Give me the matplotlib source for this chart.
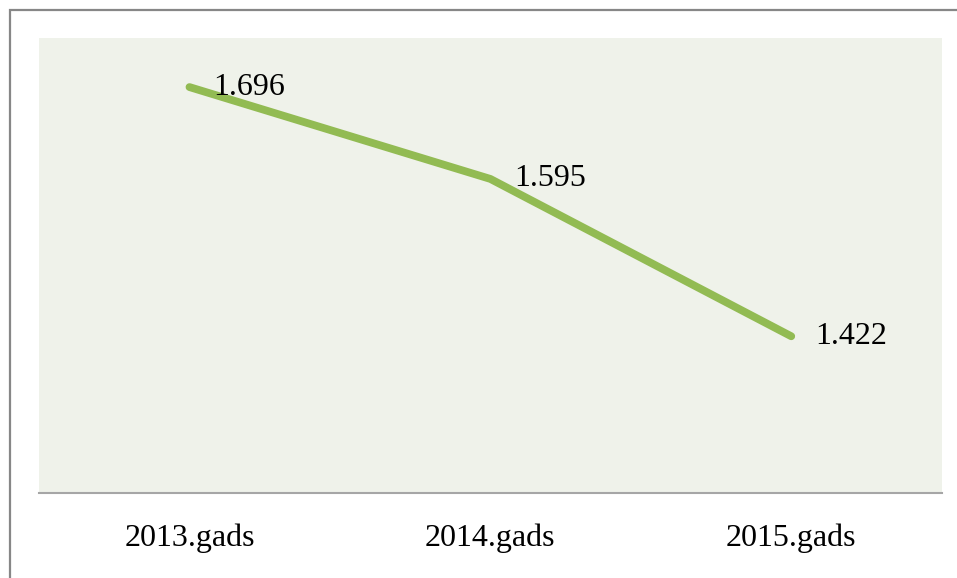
import matplotlib.pyplot as plt
from matplotlib.patches import Rectangle

# === DATA ===
categories = ["2013.gads", "2014.gads", "2015.gads"]
values = [1.696, 1.595, 1.422]
value_labels = ["1.696", "1.595", "1.422"]

# === STYLE ===
plt.rcParams['font.family'] = ['Liberation Serif', 'DejaVu Serif']
LINE_COLOR = '#92BB53'
BG_COLOR = '#EFF2EA'

fig = plt.figure(figsize=(9.57, 5.78), dpi=100)
ax = fig.add_axes([0.0408, 0.1476, 0.9432, 0.7867])
ax.set_facecolor(BG_COLOR)

x = list(range(len(categories)))
ax.plot(x, values, color=LINE_COLOR, linewidth=5.6, solid_capstyle='round',
        solid_joinstyle='round', zorder=3)

# data labels, to the right of each point
for xi, v, lab in zip(x, values, value_labels):
    ax.annotate(lab, (xi, v), xytext=(17, 0), textcoords='offset points',
                ha='left', va='center', fontsize=23, color='black', zorder=4)

ax.set_xlim(-0.5, len(categories) - 0.5)
ax.set_ylim(1.25, 1.75)
ax.set_xticks(x)
ax.set_xticklabels(categories, fontsize=23)
ax.tick_params(axis='x', length=0, pad=22)
ax.set_yticks([])

for side in ['top', 'right', 'left']:
    ax.spines[side].set_visible(False)
ax.spines['bottom'].set_color('#A6A6A6')
ax.spines['bottom'].set_linewidth(1.5)

# --- outer chart border (only left and top visible in the crop) ---
border = Rectangle((9.5 / 957, -0.1), 1.2, 1.1 - 9.5 / 578,
                   transform=fig.transFigure, fill=False,
                   edgecolor='#878787', linewidth=1.6, clip_on=False)
fig.patches.append(border)

fig.savefig('out.png', dpi=100)
